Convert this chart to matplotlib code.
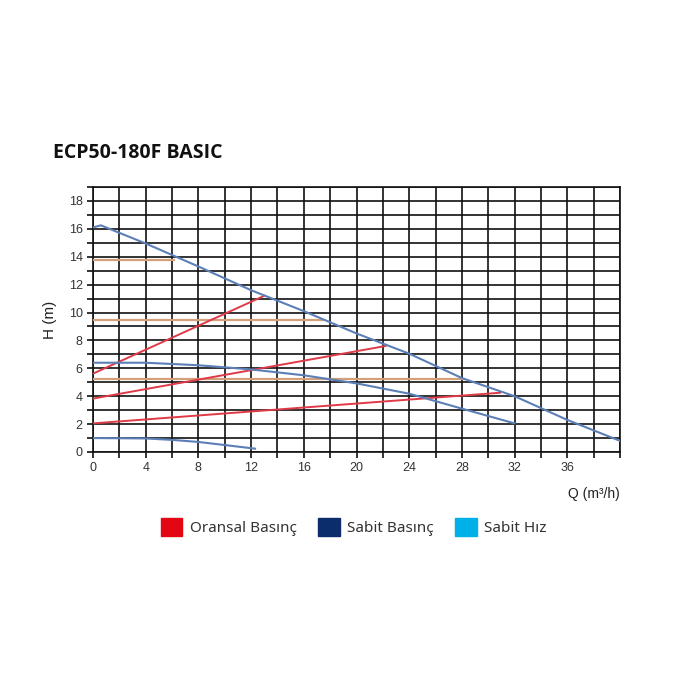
import matplotlib
matplotlib.use("Agg")
import matplotlib.pyplot as plt
from matplotlib.patches import Patch

# ---- data ----
title = "ECP50-180F BASIC"
x_ticks = [0, 4, 8, 12, 16, 20, 24, 28, 32, 36]
y_ticks = [0, 2, 4, 6, 8, 10, 12, 14, 16, 18]

# constant speed curves (blue)
max_q = [0, 0.6, 4, 8, 12, 16, 20, 24, 28, 32, 36, 40]
max_h = [16.1, 16.25, 14.95, 13.3, 11.6, 10.1, 8.5, 7.05, 5.3, 4.0, 2.3, 0.8]
mid_q = [0, 4, 8, 12, 16, 20, 24, 28, 32]
mid_h = [6.4, 6.4, 6.22, 5.92, 5.5, 4.92, 4.18, 3.11, 2.05]
min_q = [0, 4, 6, 8, 10, 12.3]
min_h = [1.0, 0.97, 0.87, 0.72, 0.5, 0.24]

# proportional pressure lines (red)
prop1_q = [0, 13.0]
prop1_h = [5.62, 11.2]
prop2_q = [0, 22.2]
prop2_h = [3.83, 7.6]
prop3_q = [0, 30.9]
prop3_h = [2.05, 4.25]

# constant pressure lines (orange)
const1_q = [0, 6.2]
const1_h = [13.8, 13.8]
const2_q = [0, 17.5]
const2_h = [9.5, 9.5]
const3_q = [0, 28.2]
const3_h = [5.2, 5.2]

legend_labels = ["Oransal Basınç", "Sabit Basınç", "Sabit Hız"]
legend_colors = ["#e30613", "#0b2d6b", "#00b0e8"]

# ---- figure ----
fig = plt.figure(figsize=(7, 7), dpi=100)
ax = fig.add_axes([93/700, 1-452/700, 527/700, 265/700])

ax.set_xlim(0, 40)
ax.set_ylim(0, 19)
ax.set_xticks(range(0, 41, 2), minor=False)
ax.set_yticks(range(0, 20, 1))
ax.grid(True, color="#111111", linewidth=1.2)
ax.set_axisbelow(True)
ax.set_xticklabels([str(v) if v in x_ticks else "" for v in range(0, 41, 2)])
ax.set_yticklabels([str(v) if v in y_ticks else "" for v in range(0, 20, 1)])
ax.tick_params(length=4, width=1.2, color="#111111", labelsize=9, labelcolor="#333333")
for lab in ax.get_xticklabels() + ax.get_yticklabels():
    lab.set_fontfamily("Liberation Sans")
for s in ax.spines.values():
    s.set_color("#111111")
    s.set_linewidth(1.2)

orange = "#d4a07a"
red = "#df3a48"
blue = "#5b7fb6"
for q, h in [(const1_q, const1_h), (const2_q, const2_h), (const3_q, const3_h)]:
    ax.plot(q, h, color=orange, lw=1.6, solid_capstyle="butt", zorder=3)
for q, h in [(prop1_q, prop1_h), (prop2_q, prop2_h), (prop3_q, prop3_h)]:
    ax.plot(q, h, color=red, lw=1.4, zorder=4)
for q, h in [(max_q, max_h), (mid_q, mid_h), (min_q, min_h)]:
    ax.plot(q, h, color=blue, lw=1.5, zorder=5)

ax.text(-0.082, 0.5, "H (m)", transform=ax.transAxes, rotation=90,
        ha="center", va="center", fontsize=11, color="#222222", family="Liberation Sans")
ax.text(1.0, -0.158, "Q (m³/h)", transform=ax.transAxes,
        ha="right", va="center", fontsize=10, color="#222222", family="Liberation Sans")

fig.text(53/700, 1-153/700, title, ha="left", va="center", fontsize=14,
         fontweight="bold", family="Open Sans", color="#111111")

handles = [Patch(facecolor=c, edgecolor=c) for c in legend_colors]
leg = fig.legend(handles, legend_labels, loc="center", bbox_to_anchor=(354/700, 1-527/700),
                 ncol=3, frameon=False, handlelength=1.4, handleheight=1.4,
                 handletextpad=0.5, columnspacing=1.4,
                 prop={"family": "Noto Sans", "size": 11})
for t in leg.get_texts():
    t.set_color("#333333")

fig.savefig("out.png", dpi=100, facecolor="white")
